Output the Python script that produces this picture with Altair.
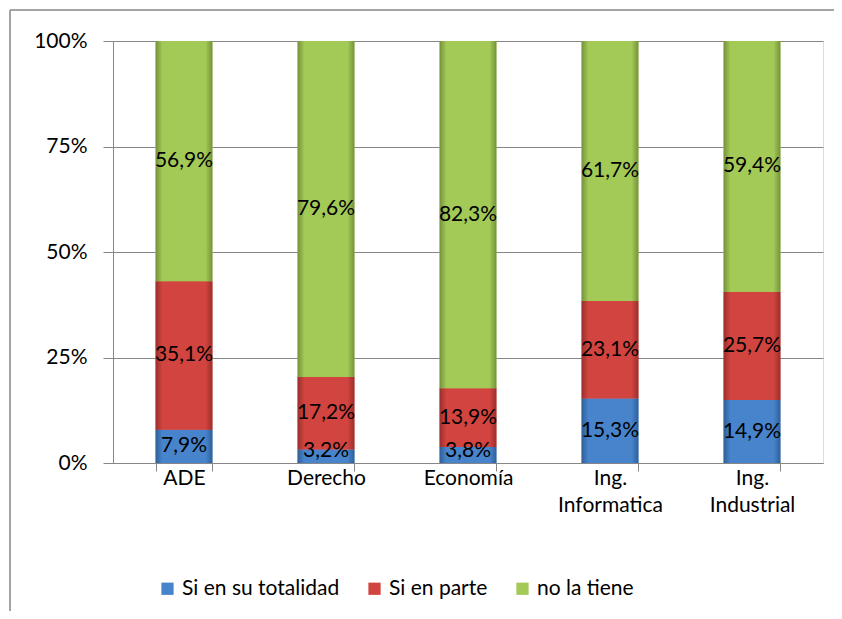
import altair as alt
import pandas as pd

categories = ["ADE", "Derecho", "Economía", "Ing. Informatica", "Ing. Industrial"]
series = ["Si en su totalidad", "Si en parte", "no la tiene"]
totalidad = [7.9, 3.2, 3.8, 15.3, 14.9]
parte = [35.1, 17.2, 13.9, 23.1, 25.7]
no_tiene = [56.9, 79.6, 82.3, 61.7, 59.4]
colors = ["#4784CC", "#D2443F", "#A3C957"]
dark = ["#2E5F98", "#9A2F2C", "#74923A"]

rows = []
for i, c in enumerate(categories):
    for j, (s, vals) in enumerate(zip(series, [totalidad, parte, no_tiene])):
        rows.append({"cat": c, "serie": s, "order": j, "value": vals[i],
                     "label": f"{vals[i]:.1f}%".replace(".", ",")})
df = pd.DataFrame(rows)

FONT = "Lato"
FS = 21

base = alt.Chart(df).transform_stack(
    stack="value", groupby=["cat"], as_=["y0", "y1"], sort=[alt.SortField("order")], offset="normalize"
).transform_calculate(ymid="max((datum.y0 + datum.y1) / 2, 0.029)")

xenc = alt.X("cat:N", sort=categories, title=None,
             scale=alt.Scale(paddingInner=0.6, paddingOuter=0.3),
             axis=alt.Axis(labelAngle=0, labelFontSize=FS, labelFont=FONT, labelColor="#000",
                           labelExpr="split(datum.label, ' ')", labelLineHeight=27,
                           tickBand="extent", tickSize=8, tickColor="#868686",
                           domainColor="#868686", labelPadding=-4, grid=False))

bars = base.mark_bar().encode(
    x=xenc,
    y=alt.Y("y0:Q", title=None, scale=alt.Scale(domain=[0, 1]),
            axis=alt.Axis(values=[0, 0.25, 0.5, 0.75, 1], format=".0%", labelFontSize=FS,
                          labelFont=FONT, labelColor="#000", tickSize=10, tickColor="#868686",
                          domainColor="#868686", gridColor="#868686", labelPadding=16)),
    y2="y1:Q",
    color=alt.Color("serie:N", sort=series, scale=alt.Scale(domain=series, range=colors),
                    legend=alt.Legend(title=None, orient="none", direction="horizontal",
                                      legendX=44, legendY=537, symbolType="square",
                                      symbolSize=150, symbolStrokeWidth=0, labelFontSize=FS,
                                      labelFont=FONT, labelColor="#000", columnPadding=24,
                                      symbolOffset=0, labelOffset=4)),
)

shade_layers = []
for s, c, d in zip(series, colors, dark):
    grad = alt.Gradient(gradient="linear", x1=0, x2=1, y1=0, y2=0,
                        stops=[alt.GradientStop(color=d, offset=0),
                               alt.GradientStop(color=c, offset=0.12),
                               alt.GradientStop(color=c, offset=0.88),
                               alt.GradientStop(color=d, offset=1)])
    shade_layers.append(
        base.transform_filter(alt.datum.serie == s).mark_bar(color=grad).encode(
            x=alt.X("cat:N", sort=categories), y="y0:Q", y2="y1:Q"))

text = base.mark_text(fontSize=FS, font=FONT, color="#000").encode(
    x=alt.X("cat:N", sort=categories),
    y=alt.Y("ymid:Q"),
    text="label:N",
)

border = alt.Chart(pd.DataFrame({"a": [0]})).mark_rule(color="#868686", strokeWidth=1.5).encode(
    x=alt.value(-103), x2=alt.value(740), y=alt.value(-31))
border2 = alt.Chart(pd.DataFrame({"a": [0]})).mark_rule(color="#868686", strokeWidth=1.5).encode(
    x=alt.value(-103), y=alt.value(-31), y2=alt.value(585))

chart = alt.layer(bars, *shade_layers, text, border, border2).properties(
    width=710, height=422,
    autosize=alt.AutoSizeParams(type="none"),
    padding={"left": 105, "top": 33, "right": 11, "bottom": 148},
).configure_view(stroke=None).configure(font=FONT)

chart.save("out.html", embed_options={"renderer": "svg", "actions": False})
